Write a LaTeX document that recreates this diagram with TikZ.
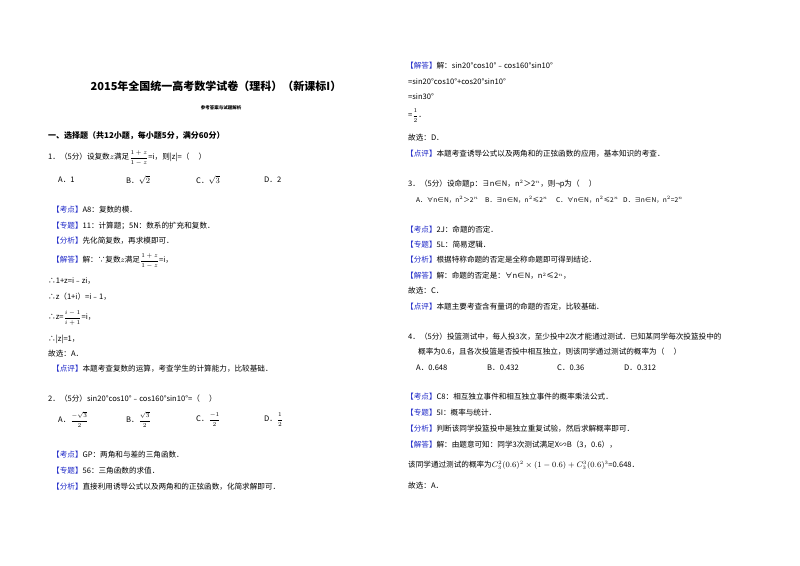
\documentclass[tikz,border=0pt]{standalone}
\usepackage{amsmath,amssymb}
\usepackage{fontspec}
\setmainfont{Noto Sans CJK SC}
\definecolor{lab}{RGB}{30,40,200}
\newcommand{\lb}[1]{\textcolor{lab}{【#1】}}
\newcommand{\fr}[2]{{\fontsize{6.5}{7}\selectfont$\dfrac{#1}{#2}$}}
\begin{document}
\begin{tikzpicture}[x=1pt,y=-1pt,
  t/.style={anchor=west,inner sep=0pt,font=\fontsize{7.6}{9}\selectfont},
  o/.style={anchor=west,inner sep=0pt,font=\fontsize{6.6}{8}\selectfont}]
\useasboundingbox[fill=white] (0,0) rectangle (800,565);
% left column
\node[inner sep=0,font=\fontsize{11}{13}\selectfont\bfseries] (title) at (216,86) {2015年全国统一高考数学试卷（理科）（新课标I）};
\node[inner sep=0,font=\fontsize{4.5}{5}\selectfont\bfseries] (sub) at (221,108) {参考答案与试题解析};
\node[t,font=\fontsize{8}{9}\selectfont\bfseries] (h1) at (48,136) {一、选择题（共12小题，每小题5分，满分60分）};
\node[t] (q1) at (48,158) {1．（5分）设复数$z$满足\fr{1+z}{1-z}=i，则|z|=（\quad\ ）};
\node[t] (q1a) at (58,180) {A．1};
\node[t] (q1b) at (126,180) {B．$\sqrt{2}$};
\node[t] (q1c) at (196,180) {C．$\sqrt{3}$};
\node[t] (q1d) at (264,180) {D．2};
\node[t] (l1) at (52,210) {\lb{考点}A8：复数的模．};
\node[t] (l2) at (52,226) {\lb{专题}11：计算题；5N：数系的扩充和复数．};
\node[t] (l3) at (52,241) {\lb{分析}先化简复数，再求模即可．};
\node[t] (l4) at (52,261) {\lb{解答}解：∵复数$z$满足\fr{1+z}{1-z}=i，};
\node[t] (l5) at (48,281) {∴1+z=i﹣zi，};
\node[t] (l6) at (48,297) {∴z（1+i）=i﹣1，};
\node[t] (l7) at (48,318) {∴z=\fr{i-1}{i+1}=i，};
\node[t] (l8) at (48,339) {∴|z|=1，};
\node[t] (l9) at (48,354) {故选：A．};
\node[t] (l10) at (52,369) {\lb{点评}本题考查复数的运算，考查学生的计算能力，比较基础．};
\node[t] (q2) at (48,399) {2．（5分）sin20°cos10°﹣cos160°sin10°=（\quad\ ）};
\node[t] (q2a) at (58,420) {A．\fr{-\sqrt{3}}{2}};
\node[t] (q2b) at (126,420) {B．\fr{\sqrt{3}}{2}};
\node[t] (q2c) at (196,420) {C．\fr{-1}{2}};
\node[t] (q2d) at (264,420) {D．\fr{1}{2}};
\node[t] (m1) at (52,455) {\lb{考点}GP：两角和与差的三角函数．};
\node[t] (m2) at (52,471) {\lb{专题}56：三角函数的求值．};
\node[t] (m3) at (52,487) {\lb{分析}直接利用诱导公式以及两角和的正弦函数，化简求解即可．};
% right column
\node[t] (r1) at (406,66) {\lb{解答}解：sin20°cos10°﹣cos160°sin10°};
\node[t] (r2) at (408,82) {=sin20°cos10°+cos20°sin10°};
\node[t] (r3) at (408,97) {=sin30°};
\node[t] (r4) at (408,116) {=\fr{1}{2}．};
\node[t] (r5) at (408,138) {故选：D．};
\node[t] (r6) at (406,154) {\lb{点评}本题考查诱导公式以及两角和的正弦函数的应用，基本知识的考查．};
\node[t] (q3) at (408,184) {3．（5分）设命题p：∃n∈N，n$^2$＞2$^n$，则¬p为（\quad\ ）};
\node[o] (q3a) at (416,200) {A．∀n∈N，n$^2$＞2$^n$};
\node[o] (q3b) at (485,200) {B．∃n∈N，n$^2$≤2$^n$};
\node[o] (q3c) at (556,200) {C．∀n∈N，n$^2$≤2$^n$};
\node[o] (q3d) at (623,200) {D．∃n∈N，n$^2$=2$^n$};
\node[t] (s1) at (406,230) {\lb{考点}2J：命题的否定．};
\node[t] (s2) at (406,245) {\lb{专题}5L：简易逻辑．};
\node[t] (s3) at (406,260) {\lb{分析}根据特称命题的否定是全称命题即可得到结论．};
\node[t] (s4) at (406,276) {\lb{解答}解：命题的否定是：∀n∈N，n$^2$≤2$^n$，};
\node[t] (s5) at (408,291) {故选：C．};
\node[t] (s6) at (406,307) {\lb{点评}本题主要考查含有量词的命题的否定，比较基础．};
\node[t] (q4) at (408,337) {4．（5分）投篮测试中，每人投3次，至少投中2次才能通过测试．已知某同学每次投篮投中的};
\node[t] (q4b) at (418,352) {概率为0.6，且各次投篮是否投中相互独立，则该同学通过测试的概率为（\quad\ ）};
\node[t] (q4oa) at (416,368) {A．0.648};
\node[t] (q4ob) at (487,368) {B．0.432};
\node[t] (q4oc) at (557,368) {C．0.36};
\node[t] (q4od) at (624,368) {D．0.312};
\node[t] (u1) at (406,397) {\lb{考点}C8：相互独立事件和相互独立事件的概率乘法公式．};
\node[t] (u2) at (406,413) {\lb{专题}5I：概率与统计．};
\node[t] (u3) at (406,429) {\lb{分析}判断该同学投篮投中是独立重复试验，然后求解概率即可．};
\node[t] (u4) at (406,445) {\lb{解答}解：由题意可知：同学3次测试满足X∽B（3，0.6），};
\node[t] (u5) at (408,465) {该同学通过测试的概率为$C_3^2(0.6)^2\times(1-0.6)+C_3^3(0.6)^3$=0.648．};
\node[t] (u6) at (408,486) {故选：A．};
\end{tikzpicture}
\end{document}
